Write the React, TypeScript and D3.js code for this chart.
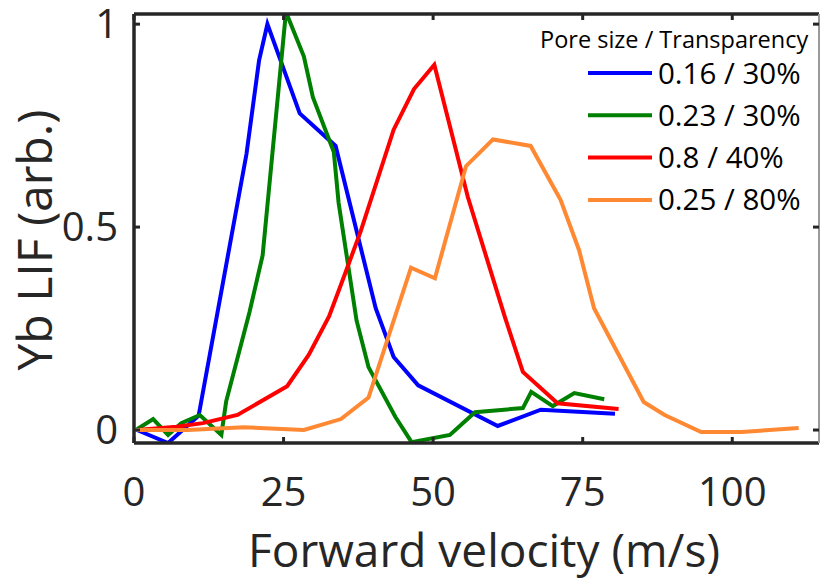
import React from "react";
import * as d3 from "d3";

const xTicks = [0, 25, 50, 75, 100];
const yTicks = [0, 0.5, 1];
const yTickLabels = ["0", "0.5", "1"];

const seriesNames = ["0.16 / 30%", "0.23 / 30%", "0.8 / 40%", "0.25 / 80%"];
const seriesColors = ["#0000ff", "#008000", "#ff0000", "#ff8833"];

const blue: [number, number][] = [
  [0.5, 0.0], [5.7, -0.032], [10.8, 0.035], [18.8, 0.68], [20.9, 0.91], [22.3, 1.0],
  [27.7, 0.78], [33.7, 0.70], [40.4, 0.30], [43.4, 0.18], [47.5, 0.11],
  [60.8, 0.01], [68.0, 0.05], [80.4, 0.04],
];
const green: [number, number][] = [
  [0.5, 0.002], [3.2, 0.027], [5.7, -0.012], [7.9, 0.017], [11.0, 0.037], [14.6, -0.012],
  [15.4, 0.07], [19.3, 0.29], [21.5, 0.43], [25.4, 1.03], [28.4, 0.92], [29.9, 0.82],
  [33.4, 0.685], [34.2, 0.56], [37.2, 0.27], [39.2, 0.155], [43.7, 0.032], [46.4, -0.03],
  [52.8, -0.012], [57.0, 0.044], [65.0, 0.054], [66.4, 0.094], [70.0, 0.059],
  [73.6, 0.091], [78.6, 0.076],
];
const red: [number, number][] = [
  [0.5, 0.0], [7.1, 0.008], [11.5, 0.017], [17.3, 0.037], [25.6, 0.108], [29.2, 0.185],
  [32.6, 0.28], [35.4, 0.39], [37.9, 0.49], [43.4, 0.74], [46.8, 0.84], [50.2, 0.9],
  [55.8, 0.574], [62.0, 0.278], [65.0, 0.143], [70.8, 0.066], [81.0, 0.052],
];
const orange: [number, number][] = [
  [0.5, 0.0], [9.0, 0.0], [18.4, 0.007], [28.4, 0.0], [34.6, 0.027], [39.2, 0.08],
  [46.3, 0.4], [50.3, 0.374], [55.5, 0.65], [60.0, 0.716], [66.3, 0.7], [71.3, 0.567],
  [74.4, 0.443], [76.9, 0.3], [85.2, 0.069], [88.7, 0.037], [94.8, -0.005],
  [101.5, -0.005], [111.1, 0.005],
];
const allSeries = [blue, green, red, orange];

const W = 820;
const H = 581;
const L = 134, R = 819, T = 14, B = 443;
const FONT = "'Open Sans', 'Noto Sans', sans-serif";
const AX = "#262626";

export default function App() {
  const x = d3.scaleLinear().domain([0, 114.5]).range([L, R]);
  const y = d3.scaleLinear().domain([-0.032, 1.025]).range([B, T]);
  const line = d3.line<[number, number]>().x((d) => x(d[0])).y((d) => y(d[1]));
  const tk = 6;

  return (
    <svg width={W} height={H} style={{ position: "absolute", left: 0, top: 0, background: "#fff" }}>
      <defs>
        <clipPath id="plotclip">
          <rect x={L} y={T} width={R - L} height={B - T} />
        </clipPath>
      </defs>
      <rect x={0} y={0} width={W} height={H} fill="#fff" />
      <g clipPath="url(#plotclip)">
        {allSeries.map((s, i) => (
          <path key={i} d={line(s) || ""} fill="none" stroke={seriesColors[i]} strokeWidth={4} strokeLinejoin="miter" />
        ))}
      </g>
      <g stroke={AX} strokeWidth={3.5} fill="none">
        <line x1={L} x2={R} y1={B} y2={B} />
        <line x1={L} x2={R} y1={T} y2={T} />
        <line x1={L} x2={L} y1={T} y2={B} />
        <line x1={R} x2={R} y1={T} y2={B} strokeWidth={2} stroke="#9a9a9a" />
      </g>
      <g stroke={AX} strokeWidth={3}>
        {xTicks.map((t) => (
          <g key={t}>
            <line x1={x(t)} x2={x(t)} y1={B} y2={B - tk} />
            <line x1={x(t)} x2={x(t)} y1={T} y2={T + tk} />
          </g>
        ))}
        {yTicks.map((t) => (
          <g key={t}>
            <line x1={L} x2={L + tk} y1={y(t)} y2={y(t)} />
            <line x1={R} x2={R - tk} y1={y(t)} y2={y(t)} />
          </g>
        ))}
      </g>
      <g fontFamily={FONT} fontSize={40} fill={AX}>
        {xTicks.map((t) => (
          <text key={t} x={x(t)} y={506} textAnchor="middle">{t}</text>
        ))}
        {yTicks.map((t, i) => (
          <text key={t} x={118} y={y(t) + 14} textAnchor="end">{yTickLabels[i]}</text>
        ))}
      </g>
      <text x={484} y={567} textAnchor="middle" fontFamily={FONT} fontSize={46} fill={AX}>
        Forward velocity (m/s)
      </text>
      <text transform={`translate(52, 240) rotate(-90)`} textAnchor="middle" fontFamily={FONT} fontSize={48} fill={AX}>
        Yb LIF (arb.)
      </text>
      <text x={540} y={48} textAnchor="start" fontFamily={FONT} fontSize={23.5} fill="#000">
        Pore size / Transparency
      </text>
      {seriesNames.map((n, i) => (
        <g key={n}>
          <line x1={588} x2={652} y1={73 + i * 42.3} y2={73 + i * 42.3} stroke={seriesColors[i]} strokeWidth={4} />
          <text x={658} y={73 + i * 42.3 + 10.5} fontFamily={FONT} fontSize={29.5} fill="#000">
            {n}
          </text>
        </g>
      ))}
    </svg>
  );
}
